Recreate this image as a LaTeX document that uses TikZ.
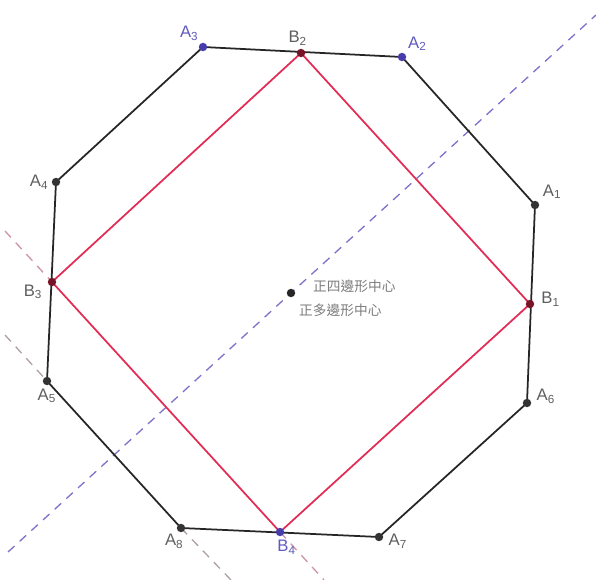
\documentclass[tikz,border=0pt]{standalone}
\usepackage{fontspec}
\setmainfont{Liberation Sans}
\newfontfamily\cjk{Noto Sans CJK TC}
\usetikzlibrary{positioning}
\definecolor{sqred}{RGB}{225,45,85}
\definecolor{ptblue}{RGB}{70,60,170}
\definecolor{ptred}{RGB}{120,20,40}
\definecolor{lblgray}{RGB}{95,95,95}
\definecolor{cjkgray}{RGB}{125,125,125}
\definecolor{lblblue}{RGB}{95,90,190}
\definecolor{dashblue}{RGB}{125,115,205}
\definecolor{dashpink}{RGB}{205,150,165}
\definecolor{dashgray}{RGB}{175,160,165}

\begin{document}
\begin{tikzpicture}[x=0.02cm, y=-0.02cm,
  pt/.style={circle, fill=#1, inner sep=0pt, minimum size=4.8pt},
  lbl/.style={text=#1, font=\fontsize{9.5}{11}\selectfont, inner sep=0.5pt},
  lbl/.default=lblgray,
  ext/.style={#1, dash pattern=on 5pt off 4pt, line width=0.75pt}]
  \useasboundingbox (0,0) rectangle (596,580);
  % vertices of the octagon and the square
  \foreach \n/\x/\y in {A1/535/205, A2/402/57, A3/203/47, A4/56/182,
      A5/47/381, A6/527/403, A7/379/537, A8/181/528,
      B1/530/304, B2/301/53, B3/52/282, B4/280/532, O/291/293} {
    \coordinate (\n) at (\x,\y);
  }
  % ends of the dashed lines
  \coordinate (dbS) at (8,552);
  \coordinate (dbE) at (596,15);
  \coordinate (p1S) at (5,231);
  \coordinate (p1E) at (324,580);
  \coordinate (p2S) at (5,335);
  \coordinate (p2E) at (231,580);
  \draw[ext=dashblue] (dbS) -- (O) -- (dbE);
  \draw[ext=dashpink] (p1S) -- (B3);
  \draw[ext=dashpink] (B4) -- (p1E);
  \draw[ext=dashgray] (p2S) -- (A5);
  \draw[ext=dashgray] (A8) -- (p2E);
  % octagon
  \draw[line width=1pt, black!85] (A1) -- (A2) -- (A3) -- (A4) -- (A5)
    -- (A8) -- (A7) -- (A6) -- cycle;
  % square
  \draw[line width=1pt, sqred] (B1) -- (B2) -- (B3) -- (B4) -- cycle;
  % points
  \foreach \n/\c in {A1/black!80, A2/ptblue, A3/ptblue, A4/black!80,
      A5/black!80, A6/black!80, A7/black!80, A8/black!80,
      B1/ptred, B2/ptred, B3/ptred, B4/ptblue, O/black!85} {
    \node[pt=\c] (p\n) at (\n) {};
  }
  % labels
  \node[lbl=lblblue, above left=1pt and 0pt of pA3] {A\textsubscript{3}};
  \node[lbl=lblblue, above right=1pt and 1pt of pA2] {A\textsubscript{2}};
  \node[lbl, above left=2pt and -6pt of pB2] {B\textsubscript{2}};
  \node[lbl, above right=1pt and 2pt of pA1] {A\textsubscript{1}};
  \node[lbl, left=1pt of pA4] {A\textsubscript{4}};
  \node[lbl, below left=-1pt and 3pt of pB3] {B\textsubscript{3}};
  \node[lbl, above right=-4pt and 4pt of pB1] {B\textsubscript{1}};
  \node[lbl, below=1pt of pA5] {A\textsubscript{5}};
  \node[lbl, above right=-3pt and 3pt of pA6] {A\textsubscript{6}};
  \node[lbl, below right=-4pt and 3pt of pA7] {A\textsubscript{7}};
  \node[lbl, below left=1pt and -4pt of pA8] {A\textsubscript{8}};
  \node[lbl=lblblue, below right=2pt and -4pt of pB4] {B\textsubscript{4}};
  \node[lbl=cjkgray, anchor=west, font=\cjk\fontsize{7.8}{9}\selectfont] (cSq) at (312,286) {正四邊形中心};
  \node[lbl=cjkgray, anchor=west, font=\cjk\fontsize{7.8}{9}\selectfont] (cPoly) at (298,310) {正多邊形中心};
\end{tikzpicture}
\end{document}
